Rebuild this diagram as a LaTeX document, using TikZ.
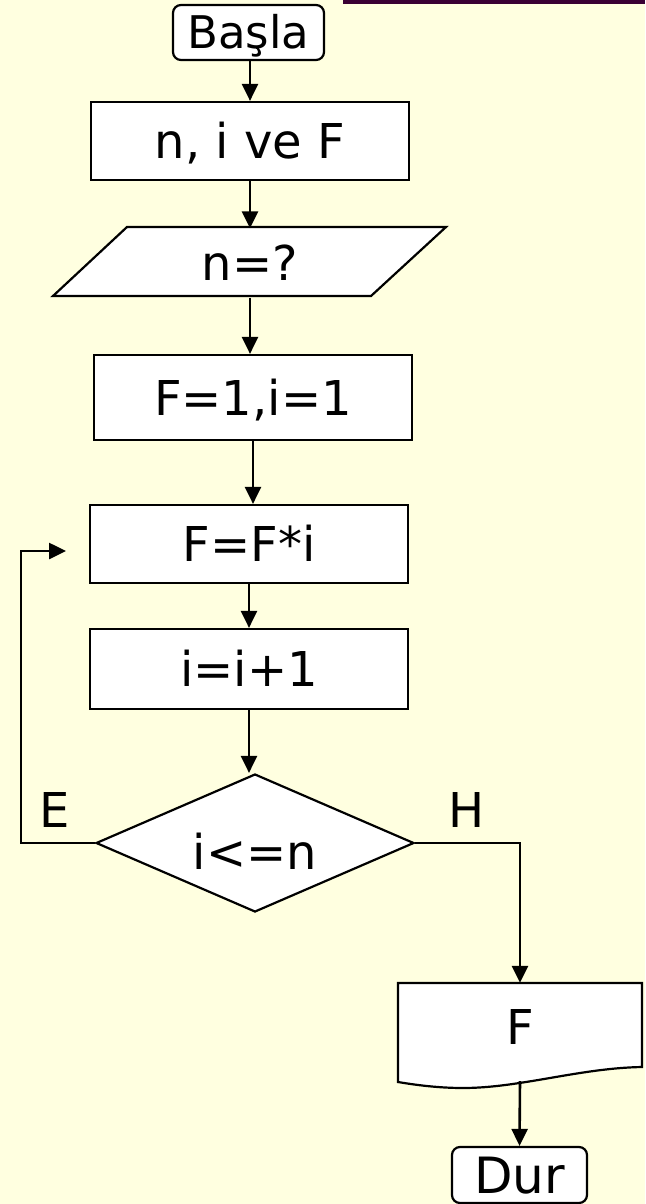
\documentclass[tikz,border=0pt]{standalone}
\usepackage{fontspec}
\setmainfont{DejaVu Sans}
\usetikzlibrary{arrows.meta,shapes.geometric}
\definecolor{bgyellow}{RGB}{255,255,224}
\definecolor{topbar}{RGB}{58,0,52}
\begin{document}
\begin{tikzpicture}[x=1pt,y=-1pt,
  outline/.style={draw=black,line width=2.2pt,fill=white},
  bigtext/.style={font=\fontsize{48}{56}\selectfont,text height=35pt,text depth=0pt},
  box/.style={outline,rectangle,inner sep=0pt,bigtext},
  term/.style={outline,rectangle,rounded corners=8pt,inner sep=0pt},
  plain/.style={inner sep=0pt,bigtext},
  arr/.style={line width=2.6pt,-{Triangle[length=17pt,width=16pt]}}
]
\fill[bgyellow] (0,0) rectangle (645,1204);
\useasboundingbox (0,0) rectangle (645,1204);
\fill[topbar] (343,0) rectangle (645,4);

% nodes
\node[term,minimum width=151pt,minimum height=55pt,font=\fontsize{45}{52}\selectfont,text height=32pt,text depth=0pt] (start) at (248.5,32.5) {Başla};
\node[box,minimum width=318pt,minimum height=78pt] (init) at (250,141) {n, i ve F};
\draw[outline] (127,227) -- (446,227) -- (371,296) -- (53,296) -- cycle;
\node[plain,minimum width=240pt,minimum height=69pt] (input) at (250,263) {n=?};
\node[box,minimum width=318pt,minimum height=85pt] (set) at (253,397.5) {F=1,i=1};
\node[box,minimum width=318pt,minimum height=78pt] (mult) at (249,544) {F=F*i};
\node[box,minimum width=318pt,minimum height=80pt] (inc) at (249,669) {i=i+1};
\node[outline,diamond,inner sep=0pt,minimum width=318pt,minimum height=138pt] (cond) at (255,843) {};
\node[plain] (condtext) at (255,852) {i<=n};
\node[plain] (lblE) at (55,810) {E};
\node[plain] (lblH) at (467,810) {H};
\draw[outline] (398,983) -- (642,983) -- (642,1067)
  .. controls (580,1068) and (520,1088) .. (463,1088)
  .. controls (435,1088) and (410,1084) .. (398,1082) -- cycle;
\node[plain,minimum width=244pt,minimum height=88pt] (out) at (520,1027) {F};
\coordinate (outb) at (520,1081);
\node[term,minimum width=135pt,minimum height=56pt,font=\fontsize{50}{56}\selectfont,text height=36pt,text depth=0pt] (stop) at (519.5,1175) {Dur};
\coordinate (loopcorner) at (21,551);
\coordinate (looptip) at (66,551);

% connectors
\draw[arr] (start.south -| init.north) -- (init.north);
\draw[arr] (init.south) -- (init.south |- input.north);
\draw[arr] (input.south) -- (input.south |- set.north);
\draw[arr] (set.south) -- (set.south |- mult.north);
\draw[arr] (mult.south) -- (mult.south |- inc.north);
\draw[arr] (inc.south) -- (inc.south |- cond.north);
\draw[arr] (cond.west) -| (loopcorner) -- (looptip);
\draw[arr] (cond.east) -| (out.north);
\draw[arr] (outb) -- (stop.north);
\end{tikzpicture}
\end{document}
